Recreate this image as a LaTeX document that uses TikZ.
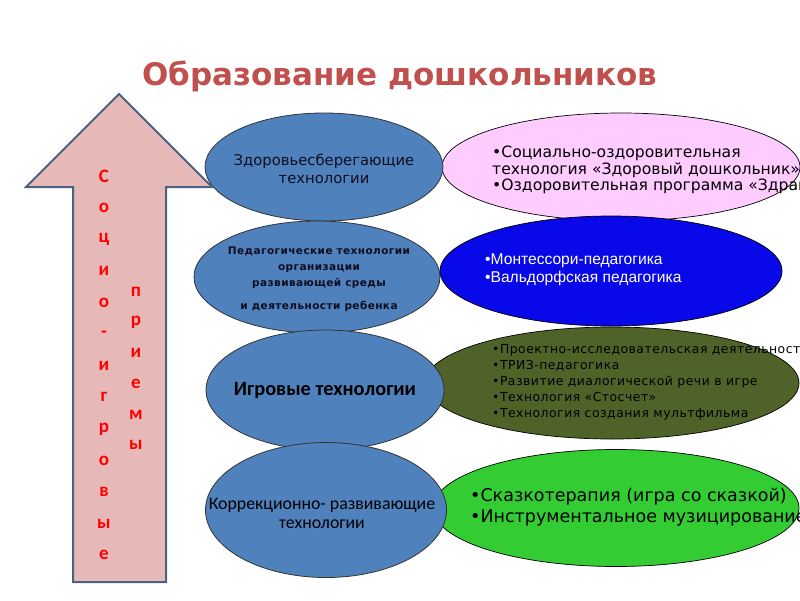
\documentclass[tikz,border=0pt]{standalone}
\usepackage{fontspec}
\setmainfont{DejaVu Sans}
\newfontfamily\carlito{Carlito}
\newfontfamily\libsans{Liberation Sans}
\newfontfamily\dvspaced[LetterSpace=4]{DejaVu Sans}
\usetikzlibrary{shapes.geometric}
\definecolor{titlered}{HTML}{C0504D}
\definecolor{arrowfill}{HTML}{E6B9B8}
\definecolor{arrowline}{HTML}{4A6282}
\definecolor{steel}{HTML}{4F81BD}
\definecolor{pinkfill}{HTML}{FFCCFF}
\definecolor{bluefill}{HTML}{0808E8}
\definecolor{olivefill}{HTML}{4F6228}
\definecolor{greenfill}{HTML}{33CC33}
\definecolor{darktext}{HTML}{0E0E20}
\tikzset{
  leftell/.style={ellipse, draw=black!80, line width=0.8pt, fill=steel, inner sep=0pt},
  rightell/.style={ellipse, draw=black, line width=0.7pt, inner sep=0pt},
  arrowletter/.style={text=red, font=\carlito\bfseries\fontsize{19}{19}\selectfont, inner sep=0pt, anchor=center},
  lefttext/.style={align=center, text=darktext, inner sep=0pt},
  righttext/.style={align=left, anchor=west, inner sep=0pt}
}
\begin{document}
\begin{tikzpicture}[x=1pt,y=-1pt]
\useasboundingbox (0,0) rectangle (800,600);
\clip (0,0) rectangle (800,600);
\fill[white] (0,0) rectangle (800,600);

% title
\node[text=titlered, font=\bfseries\fontsize{31}{31}\selectfont, inner sep=0pt] (title) at (400,76) {Образование дошкольников};

% right ellipses
\node[rightell, fill=pinkfill, minimum width=358pt, minimum height=108pt] (pink) at (621,167) {};
\node[rightell, fill=bluefill, minimum width=342pt, minimum height=110pt] (blue) at (611,271) {};
\node[rightell, fill=olivefill, minimum width=374pt, minimum height=112pt] (olive) at (612,383) {};
\node[rightell, fill=greenfill, minimum width=366pt, minimum height=117pt] (green) at (616,508) {};

\node[righttext, font=\fontsize{15.6}{16.5}\selectfont, text=black] (pinktext) at (492,170)
  {•Социально-оздоровительная\\технология «Здоровый дошкольник»\\•Оздоровительная программа «Здравствуй»};
\node[righttext, font=\libsans\fontsize{15.6}{18}\selectfont, text=white] (bluetext) at (485,270)
  {•Монтессори-педагогика\\•Вальдорфская педагогика};
\node[righttext, font=\dvspaced\fontsize{12.4}{16}\selectfont, text=black] (olivetext) at (492,382)
  {•Проектно-исследовательская деятельность\\•ТРИЗ-педагогика\\•Развитие диалогической речи в игре\\•Технология «Стосчет»\\•Технология создания мультфильма};
\node[righttext, font=\fontsize{17.5}{21}\selectfont, text=black] (greentext) at (470,507.5)
  {•Сказкотерапия (игра со сказкой)\\•Инструментальное музицирование};

% left ellipses
\node[leftell, minimum width=238pt, minimum height=108pt] (e1) at (324,167) {};
\node[leftell, minimum width=246pt, minimum height=112pt] (e2) at (317,277) {};
\node[leftell, minimum width=238pt, minimum height=120pt] (e3) at (325,390) {};
\node[leftell, minimum width=241pt, minimum height=135pt] (e4) at (326,510) {};

\node[lefttext, font=\fontsize{14.8}{18}\selectfont] (t1) at (324,169) {Здоровьесберегающие\\технологии};
\node[lefttext, font=\dvspaced\bfseries\fontsize{10.5}{16}\selectfont] (t2) at (319,279)
  {Педагогические технологии\\организации\\развивающей среды\\[7pt]и деятельности ребенка};
\node[lefttext, font=\carlito\bfseries\fontsize{20.3}{20}\selectfont, text=black] (t3) at (325,391) {Игровые технологии};
\node[lefttext, font=\carlito\fontsize{17.8}{19}\selectfont, text=black] (t4) at (322,513) {Коррекционно- развивающие\\технологии};

% arrow
\draw[arrowline, line width=2pt, fill=arrowfill, line join=miter]
  (119,94) -- (212,187) -- (166,187) -- (166,582) -- (73,582) -- (73,187) -- (26,187) -- cycle;

\foreach \ch [count=\i from 0] in {С,о,ц,и,о,-,и,г,р,о,в,ы,е}
  \node[arrowletter] (la\i) at (104,176+31.6*\i) {\ch};
\foreach \ch [count=\i from 0] in {п,р,и,е,м,ы}
  \node[arrowletter] (lb\i) at (136,292+30.6*\i) {\ch};
\end{tikzpicture}
\end{document}
